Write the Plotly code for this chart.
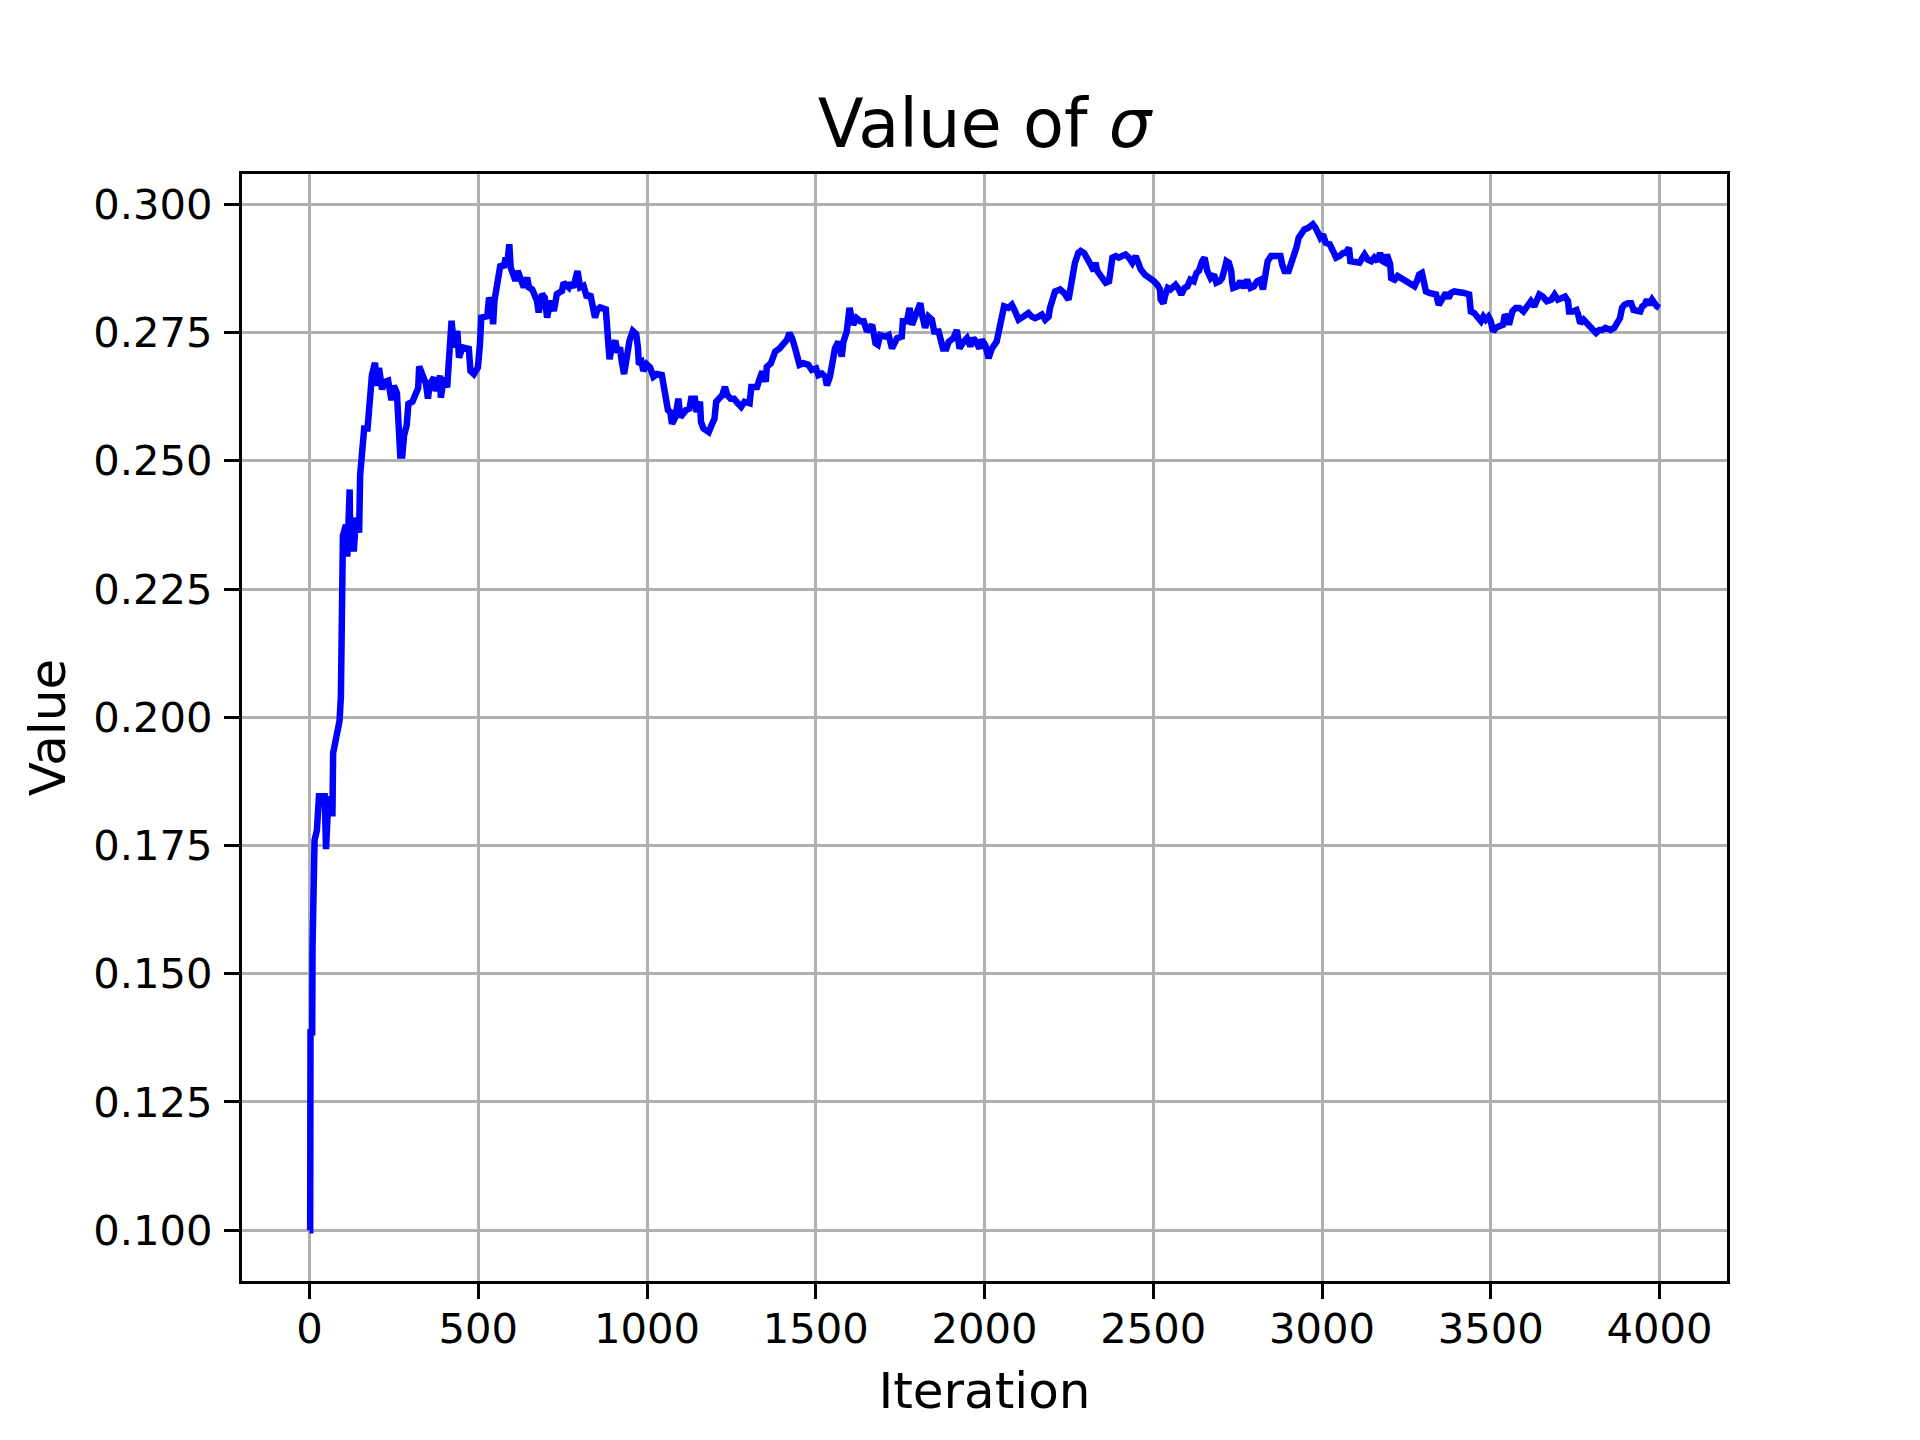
import plotly.graph_objects as go

iterations = [
    0, 2, 3, 8, 9, 10, 13, 15, 22, 28, 35, 40, 45, 49, 52, 56, 60, 68, 70, 80, 89, 93, 96, 99,
    108, 112, 119, 121, 126, 131, 138, 147, 150, 157, 162, 172, 177, 180, 185, 194, 200, 206,
    215, 221, 233, 243, 250, 259, 263, 269, 275, 280, 288, 293, 305, 315, 322, 325, 338, 345,
    351, 356, 369, 374, 387, 389, 398, 408, 413, 421, 428, 438, 443, 453, 472, 477, 487, 499,
    505, 509, 527, 532, 539, 544, 548, 556, 566, 576, 581, 586, 592, 596, 605, 610, 617, 625,
    635, 645, 650, 660, 666, 674, 679, 689, 697, 704, 714, 724, 733, 748, 753, 768, 773, 782,
    794, 802, 812, 822, 832, 840, 846, 853, 861, 878, 883, 889, 896, 906, 913, 920, 925, 932,
    940, 948, 958, 968, 973, 976, 984, 989, 999, 1009, 1019, 1029, 1044, 1049, 1054, 1062,
    1069, 1074, 1084, 1093, 1099, 1106, 1116, 1126, 1131, 1142, 1147, 1157, 1160, 1167, 1183,
    1193, 1200, 1205, 1215, 1223, 1231, 1238, 1248, 1258, 1269, 1279, 1289, 1304, 1309, 1326,
    1334, 1342, 1352, 1355, 1367, 1375, 1380, 1393, 1405, 1415, 1422, 1430, 1439, 1446, 1452,
    1464, 1478, 1488, 1501, 1508, 1518, 1528, 1533, 1542, 1550, 1557, 1567, 1577, 1582, 1592,
    1600, 1607, 1611, 1621, 1632, 1642, 1652, 1667, 1677, 1684, 1691, 1706, 1716, 1726, 1741,
    1755, 1758, 1770, 1778, 1785, 1795, 1810, 1815, 1824, 1834, 1844, 1851, 1864, 1877, 1887,
    1894, 1908, 1918, 1926, 1938, 1948, 1958, 1967, 1975, 1985, 1992, 2002, 2012, 2022, 2036,
    2044, 2051, 2058, 2071, 2081, 2091, 2101, 2115, 2130, 2140, 2150, 2160, 2170, 2180, 2190,
    2194, 2202, 2209, 2224, 2236, 2249, 2255, 2263, 2268, 2278, 2285, 2295, 2305, 2314, 2324,
    2329, 2334, 2349, 2359, 2369, 2374, 2379, 2389, 2398, 2408, 2418, 2428, 2438, 2448, 2455,
    2463, 2475, 2482, 2492, 2502, 2512, 2520, 2522, 2530, 2536, 2543, 2551, 2566, 2576, 2583,
    2593, 2601, 2610, 2620, 2628, 2635, 2645, 2652, 2660, 2670, 2680, 2687, 2697, 2704, 2711,
    2717, 2724, 2731, 2734, 2737, 2749, 2758, 2768, 2778, 2788, 2798, 2808, 2818, 2825, 2832,
    2839, 2849, 2862, 2877, 2882, 2889, 2901, 2908, 2916, 2924, 2931, 2937, 2948, 2959, 2973,
    2981, 2988, 2995, 3003, 3011, 3023, 3032, 3042, 3052, 3062, 3070, 3080, 3084, 3096, 3111,
    3126, 3136, 3146, 3155, 3165, 3172, 3180, 3188, 3192, 3198, 3202, 3205, 3215, 3224, 3234,
    3244, 3254, 3264, 3274, 3281, 3288, 3296, 3303, 3308, 3318, 3328, 3338, 3346, 3353, 3359,
    3367, 3375, 3382, 3392, 3406, 3421, 3436, 3441, 3451, 3461, 3471, 3478, 3485, 3493, 3500,
    3507, 3515, 3525, 3536, 3542, 3549, 3554, 3564, 3574, 3585, 3597, 3610, 3619, 3629, 3636,
    3644, 3654, 3666, 3679, 3689, 3699, 3709, 3720, 3729, 3732, 3743, 3754, 3759, 3765, 3775,
    3785, 3795, 3805, 3812, 3822, 3830, 3840, 3855, 3866, 3876, 3883, 3889, 3896, 3906, 3916,
    3923, 3936, 3943, 3949, 3956, 3963, 3970, 3978, 3985, 3992, 4000,
]

sigma_values = [
    0.1000, 0.1000, 0.1386, 0.1386, 0.1553, 0.1660, 0.1660, 0.1760, 0.1780, 0.1846, 0.1846,
    0.1846, 0.1846, 0.1743, 0.1846, 0.1846, 0.1813, 0.1813, 0.1930, 0.1965, 0.1993, 0.2040,
    0.2188, 0.2354,
    0.2375, 0.2313, 0.2444, 0.2326, 0.2368, 0.2323, 0.2389, 0.2360, 0.2472, 0.2535, 0.2563,
    0.2563, 0.2597, 0.2632, 0.2667, 0.2691, 0.2646, 0.2681,
    0.2639, 0.2653, 0.2656, 0.2618, 0.2646, 0.2632, 0.2590, 0.2510, 0.2510, 0.2549, 0.2569,
    0.2611, 0.2615, 0.2628, 0.2642, 0.2684, 0.2665, 0.2650,
    0.2621, 0.2649, 0.2662, 0.2636, 0.2666, 0.2623, 0.2662, 0.2643, 0.2695, 0.2773, 0.2721,
    0.2753, 0.2701, 0.2721, 0.2718, 0.2675, 0.2669, 0.2682,
    0.2727, 0.2779, 0.2782, 0.2818, 0.2805, 0.2766, 0.2812, 0.2851, 0.2883, 0.2877, 0.2896,
    0.2883, 0.2922, 0.2877, 0.2864, 0.2851, 0.2870, 0.2851,
    0.2838, 0.2857, 0.2838, 0.2834, 0.2825, 0.2812, 0.2789, 0.2825, 0.2818, 0.2779, 0.2812,
    0.2792, 0.2825, 0.2831, 0.2847, 0.2838, 0.2847, 0.2838,
    0.2870, 0.2838, 0.2841, 0.2818, 0.2825, 0.2799, 0.2779, 0.2795, 0.2799, 0.2795, 0.2721,
    0.2698, 0.2721, 0.2734, 0.2711, 0.2721, 0.2695, 0.2669,
    0.2701, 0.2734, 0.2753, 0.2747, 0.2721, 0.2688, 0.2692, 0.2675, 0.2688, 0.2682, 0.2664,
    0.2669, 0.2667, 0.2651, 0.2631, 0.2599,
    0.2595, 0.2572, 0.2585, 0.2621, 0.2585, 0.2592, 0.2599, 0.2602, 0.2621, 0.2621, 0.2595,
    0.2615, 0.2576, 0.2563, 0.2556,
    0.2572, 0.2582, 0.2615, 0.2621, 0.2628, 0.2644, 0.2628, 0.2621, 0.2621, 0.2612, 0.2605,
    0.2615, 0.2612, 0.2644, 0.2644,
    0.2660, 0.2674, 0.2654, 0.2683, 0.2690, 0.2700, 0.2713, 0.2719, 0.2729, 0.2736, 0.2749,
    0.2739, 0.2719, 0.2706, 0.2687,
    0.2690, 0.2687, 0.2677, 0.2680, 0.2667, 0.2670, 0.2664, 0.2647, 0.2664, 0.2687, 0.2719,
    0.2732, 0.2703, 0.2732, 0.2752,
    0.2798, 0.2781, 0.2765, 0.2778, 0.2772, 0.2772, 0.2752, 0.2765, 0.2729, 0.2726, 0.2745,
    0.2742, 0.2745, 0.2719, 0.2739,
    0.2742, 0.2772, 0.2772, 0.2798, 0.2765, 0.2785, 0.2807, 0.2785, 0.2759, 0.2781, 0.2775,
    0.2752, 0.2752, 0.2719, 0.2719,
    0.2732, 0.2739, 0.2755, 0.2719, 0.2732, 0.2739, 0.2723, 0.2739, 0.2732, 0.2719, 0.2736,
    0.2726, 0.2700, 0.2719, 0.2732,
    0.2755, 0.2778, 0.2801, 0.2798, 0.2804, 0.2791, 0.2775, 0.2781, 0.2788, 0.2781, 0.2778,
    0.2781, 0.2785, 0.2775, 0.2781,
    0.2798, 0.2811, 0.2830, 0.2834, 0.2827, 0.2814, 0.2843, 0.2863, 0.2886, 0.2905, 0.2909,
    0.2905, 0.2896, 0.2883, 0.2870,
    0.2886, 0.2870, 0.2853, 0.2847, 0.2850, 0.2866, 0.2896, 0.2899, 0.2896, 0.2899, 0.2902,
    0.2896, 0.2886, 0.2899, 0.2883,
    0.2873, 0.2863, 0.2860, 0.2853, 0.2850, 0.2843, 0.2834, 0.2814, 0.2807, 0.2824, 0.2837,
    0.2834, 0.2843, 0.2834, 0.2824,
    0.2837, 0.2840, 0.2853, 0.2850, 0.2866, 0.2870, 0.2889, 0.2896, 0.2870, 0.2856, 0.2863,
    0.2847, 0.2850, 0.2856, 0.2873,
    0.2889, 0.2886, 0.2870, 0.2847, 0.2837, 0.2840, 0.2850, 0.2837, 0.2853, 0.2837, 0.2840,
    0.2850, 0.2853, 0.2834, 0.2866,
    0.2889, 0.2899, 0.2899, 0.2899, 0.2883, 0.2870, 0.2870, 0.2883, 0.2896, 0.2915, 0.2935,
    0.2941, 0.2951, 0.2954, 0.2961,
    0.2954, 0.2941, 0.2935, 0.2941, 0.2925, 0.2922, 0.2909, 0.2896, 0.2899, 0.2905, 0.2905,
    0.2915, 0.2889, 0.2889, 0.2886,
    0.2902, 0.2892, 0.2889, 0.2896, 0.2889, 0.2905, 0.2889, 0.2886, 0.2902, 0.2892, 0.2883,
    0.2856, 0.2853, 0.2860, 0.2856,
    0.2853, 0.2850, 0.2843, 0.2840, 0.2850, 0.2863, 0.2866, 0.2850, 0.2830, 0.2827, 0.2827,
    0.2824, 0.2804, 0.2814, 0.2821,
    0.2827, 0.2817, 0.2827, 0.2830, 0.2827, 0.2827, 0.2824, 0.2791, 0.2788, 0.2778, 0.2772,
    0.2781, 0.2775, 0.2781, 0.2772,
    0.2752, 0.2759, 0.2762, 0.2765, 0.2785, 0.2778, 0.2765, 0.2791, 0.2798, 0.2798, 0.2791,
    0.2804, 0.2811, 0.2801, 0.2811,
    0.2824, 0.2820, 0.2811, 0.2814, 0.2824, 0.2814, 0.2817, 0.2820, 0.2811, 0.2791, 0.2791,
    0.2794, 0.2785, 0.2768, 0.2775,
    0.2768, 0.2762, 0.2755, 0.2749, 0.2755, 0.2755, 0.2759, 0.2755, 0.2759, 0.2768, 0.2778,
    0.2798, 0.2804, 0.2807, 0.2807,
    0.2794, 0.2791, 0.2791, 0.2801, 0.2804, 0.2814, 0.2804, 0.2814, 0.2807, 0.2801, 0.2798,
]

x_ticks = [0, 500, 1000, 1500, 2000, 2500, 3000, 3500, 4000]
y_ticks = [0.100, 0.125, 0.150, 0.175, 0.200, 0.225, 0.250, 0.275, 0.300]
y_tick_labels = ["0.100", "0.125", "0.150", "0.175", "0.200", "0.225", "0.250", "0.275", "0.300"]

FONT = "DejaVu Sans"

fig = go.Figure()
fig.add_trace(go.Scatter(
    x=iterations, y=sigma_values, mode="lines",
    line=dict(color="#0000ff", width=6.5),
    showlegend=False,
))

axis_common = dict(
    showline=True, linecolor="black", linewidth=3.3, mirror=True,
    showgrid=True, gridcolor="#b0b0b0", gridwidth=3.3,
    ticks="",
    tickfont=dict(family=FONT, size=41.7, color="black"),
    zeroline=False,
)

fig.update_xaxes(
    range=[-200, 4200], tickmode="array", tickvals=x_ticks,
    ticktext=[str(v) for v in x_ticks],
    minor=dict(tickmode="array", tickvals=x_ticks, ticks="outside", ticklen=14.6,
               tickwidth=3.3, tickcolor="black", showgrid=False),
    ticklabelstandoff=9,
    title=dict(text="Iteration", font=dict(family=FONT, size=50, color="black"), standoff=21),
    **axis_common,
)
fig.update_yaxes(
    range=[0.0901, 0.3059], tickmode="array", tickvals=y_ticks, ticktext=y_tick_labels,
    minor=dict(tickmode="array", tickvals=y_ticks, ticks="outside", ticklen=14.6,
               tickwidth=3.3, tickcolor="black", showgrid=False),
    ticklabelstandoff=18,
    title=dict(text="Value", font=dict(family=FONT, size=50, color="black"), standoff=12),
    **axis_common,
)

fig.update_layout(
    width=1920, height=1440,
    margin=dict(l=234, r=201, t=166, b=167, autoexpand=False),
    paper_bgcolor="white", plot_bgcolor="white",
    font=dict(family=FONT, color="black"),
    title=dict(
        text="Value of <i>σ</i>",
        font=dict(family=FONT, size=67, color="black"),
        x=0.5, xref="paper", xanchor="center",
        y=1, yref="paper", yanchor="bottom",
        pad=dict(b=27),
    ),
)

fig.write_html("out.html")
